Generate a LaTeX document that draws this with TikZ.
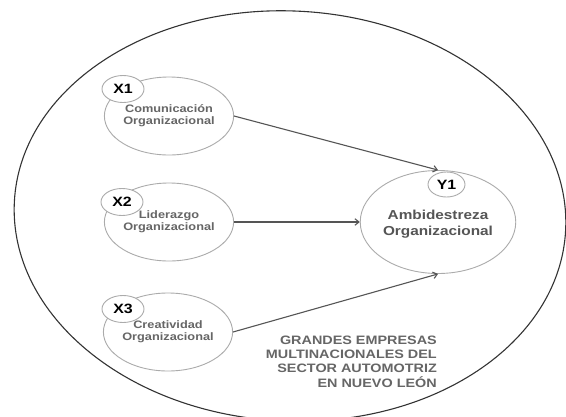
\documentclass[tikz,border=0pt]{standalone}
\usepackage{fontspec}
\newfontfamily\lab[FakeStretch=1.18]{Liberation Sans}
\usetikzlibrary{shapes.geometric,arrows.meta}
\definecolor{inktxt}{HTML}{666666}
\definecolor{circgray}{HTML}{ABABAB}
\definecolor{arrowgray}{HTML}{555555}
\definecolor{outergray}{HTML}{333333}
\begin{document}
\begin{tikzpicture}[x=1pt,y=-1pt,
  bigc/.style={ellipse,draw=circgray,line width=0.9pt,inner sep=0pt,
    minimum width=108pt,minimum height=78pt,align=center,text=inktxt,
    font=\lab\bfseries\fontsize{10.8}{12.2}\selectfont},
  ybig/.style={ellipse,draw=circgray,line width=0.9pt,inner sep=0pt,
    minimum width=146pt,minimum height=103pt,align=center,text=arrowgray,
    font=\lab\bfseries\fontsize{13}{15.5}\selectfont},
  tagc/.style={ellipse,draw=circgray,fill=white,line width=0.9pt,inner sep=0pt,
    minimum width=42pt,minimum height=27pt,text=black,
    font=\lab\bfseries\fontsize{13.5}{15}\selectfont},
  link/.style={draw=arrowgray,line width=1.1pt,-{Straight Barb[length=4pt,width=6.5pt]}},
  context/.style={align=right,inner sep=0pt,text=inktxt,
    font=\lab\bfseries\fontsize{12.2}{14.3}\selectfont}]
\useasboundingbox (0,0) rectangle (566,416);
\clip (0,0) rectangle (566,416);
\fill[white] (0,0) rectangle (566,416);
\draw[draw=outergray,line width=1.1pt,rotate around={-3:(290,216)}] (290,216) ellipse [x radius=276, y radius=205];

\node[bigc] (c1) at (169,116) {Comunicación\\Organizacional};
\node[bigc] (c2) at (169,222) {Liderazgo\\Organizacional};
\node[bigc] (c3) at (168,332) {Creatividad\\Organizacional};
\node[ybig] (y) at (438,222) {\\[-2pt]Ambidestreza\\Organizacional};

\node[tagc] (t1) at (123,89) {X1};
\node[tagc] (t2) at (122,202) {X2};
\node[tagc] (t3) at (123,309) {X3};
\node[tagc,minimum width=37pt,minimum height=25pt] (ty) at (446.5,184.5) {Y1};

\draw[link] (c1.east) -- (y.north);
\draw[link] (c2.east) -- (y.west);
\draw[link] (c3.east) -- (y.south);

\node[context,anchor=east] (ctx) at (437,361.5) {GRANDES EMPRESAS\\MULTINACIONALES DEL\\SECTOR AUTOMOTRIZ\\EN NUEVO LEÓN};
\end{tikzpicture}
\end{document}
